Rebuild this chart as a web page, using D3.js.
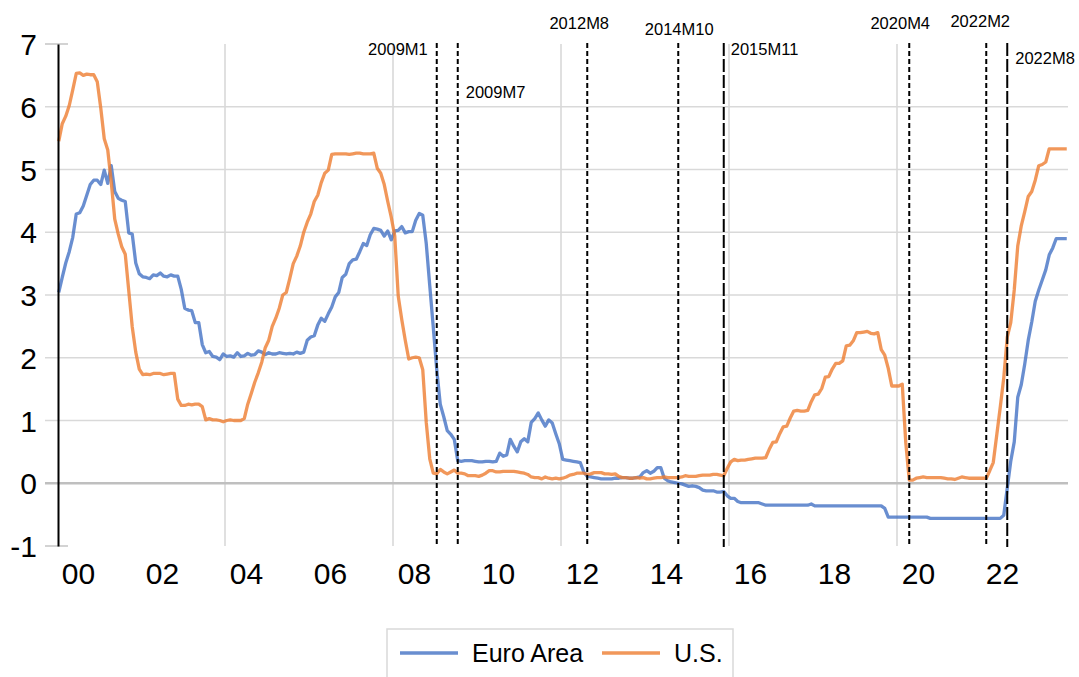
<!DOCTYPE html>
<html>
<head>
<meta charset="utf-8">
<script src="https://cdn.jsdelivr.net/npm/d3@7"></script>
<style>
  html, body { margin: 0; padding: 0; background: #fff; }
  svg { display: block; font-family: "Liberation Sans", Arial, sans-serif; }
</style>
</head>
<body>
<svg id="chart" width="1079" height="677"></svg>
<script>
// ---------------- DATA (monthly, Jan 2000 – Jan 2024) ----------------
const startYear = 2000;

const euroArea = [
  3.04, 3.28, 3.51, 3.69, 3.92, 4.29, 4.31, 4.42, 4.59, 4.76, 4.83, 4.83,
  4.76, 4.99, 4.78, 5.06, 4.65, 4.54, 4.51, 4.49, 3.99, 3.97, 3.51, 3.34,
  3.29, 3.28, 3.26, 3.32, 3.31, 3.35, 3.30, 3.29, 3.32, 3.30, 3.30, 3.09,
  2.79, 2.76, 2.75, 2.56, 2.56, 2.21, 2.08, 2.10, 2.02, 2.01, 1.97, 2.06,
  2.02, 2.03, 2.01, 2.08, 2.02, 2.03, 2.07, 2.04, 2.05, 2.11, 2.09, 2.05,
  2.08, 2.06, 2.06, 2.08, 2.07, 2.06, 2.07, 2.06, 2.09, 2.07, 2.09, 2.28,
  2.33, 2.35, 2.52, 2.63, 2.58, 2.70, 2.81, 2.97, 3.04, 3.28, 3.33, 3.50,
  3.56, 3.57, 3.69, 3.82, 3.79, 3.96, 4.06, 4.05, 4.03, 3.94, 4.02, 3.88,
  4.02, 4.03, 4.09, 3.99, 4.01, 4.01, 4.19, 4.30, 4.27, 3.82, 3.15, 2.49,
  1.81, 1.26, 1.06, 0.84, 0.78, 0.70, 0.36, 0.35, 0.36, 0.36, 0.36, 0.35,
  0.34, 0.34, 0.35, 0.35, 0.34, 0.35, 0.48, 0.43, 0.45, 0.70, 0.59, 0.50,
  0.66, 0.71, 0.66, 0.97, 1.03, 1.12, 1.01, 0.91, 1.01, 0.96, 0.79, 0.63,
  0.38, 0.37, 0.36, 0.35, 0.34, 0.33, 0.18, 0.11, 0.10, 0.09, 0.08, 0.07,
  0.07, 0.07, 0.07, 0.08, 0.08, 0.09, 0.09, 0.08, 0.08, 0.09, 0.10, 0.17,
  0.20, 0.16, 0.19, 0.25, 0.25, 0.08, 0.04, 0.02, 0.01, 0.00, -0.01, -0.03,
  -0.05, -0.04, -0.05, -0.07, -0.11, -0.12, -0.12, -0.12, -0.14, -0.14, -0.13, -0.20,
  -0.24, -0.24, -0.29, -0.31, -0.31, -0.31, -0.31, -0.31, -0.31, -0.33, -0.35, -0.35,
  -0.35, -0.35, -0.35, -0.35, -0.35, -0.35, -0.35, -0.35, -0.35, -0.35, -0.35, -0.33,
  -0.36, -0.36, -0.36, -0.36, -0.36, -0.36, -0.36, -0.36, -0.36, -0.36, -0.36, -0.36,
  -0.36, -0.36, -0.36, -0.36, -0.36, -0.36, -0.36, -0.36, -0.40, -0.54, -0.54, -0.54,
  -0.54, -0.54, -0.54, -0.54, -0.54, -0.54, -0.54, -0.54, -0.54, -0.56, -0.56, -0.56,
  -0.56, -0.56, -0.56, -0.56, -0.56, -0.56, -0.56, -0.56, -0.56, -0.56, -0.56, -0.56,
  -0.56, -0.56, -0.56, -0.56, -0.56, -0.56, -0.51, -0.08, 0.35, 0.66, 1.37, 1.57,
  1.90, 2.28, 2.57, 2.90, 3.08, 3.24, 3.40, 3.64, 3.75, 3.90, 3.90, 3.90,
  3.90
];

const us = [
  5.45, 5.73, 5.85, 6.02, 6.27, 6.53, 6.54, 6.50, 6.52, 6.51, 6.51, 6.40,
  5.98, 5.49, 5.31, 4.80, 4.21, 3.97, 3.77, 3.65, 3.07, 2.49, 2.09, 1.82,
  1.73, 1.74, 1.73, 1.75, 1.75, 1.75, 1.73, 1.74, 1.75, 1.75, 1.34, 1.24,
  1.24, 1.26, 1.25, 1.26, 1.26, 1.22, 1.01, 1.03, 1.01, 1.01, 1.00, 0.98,
  1.00, 1.01, 1.00, 1.00, 1.00, 1.03, 1.26, 1.43, 1.61, 1.76, 1.93, 2.16,
  2.28, 2.50, 2.63, 2.79, 3.00, 3.04, 3.26, 3.50, 3.62, 3.78, 4.00, 4.16,
  4.29, 4.49, 4.59, 4.79, 4.94, 4.99, 5.24, 5.25, 5.25, 5.25, 5.25, 5.24,
  5.25, 5.26, 5.26, 5.25, 5.25, 5.25, 5.26, 5.02, 4.94, 4.76, 4.49, 4.24,
  3.94, 2.98, 2.61, 2.28, 1.98, 2.00, 2.01, 2.00, 1.81, 0.97, 0.39, 0.16,
  0.15, 0.22, 0.18, 0.15, 0.18, 0.21, 0.16, 0.16, 0.15, 0.12, 0.12, 0.12,
  0.11, 0.13, 0.16, 0.20, 0.20, 0.18, 0.18, 0.19, 0.19, 0.19, 0.19, 0.18,
  0.17, 0.16, 0.14, 0.10, 0.09, 0.09, 0.07, 0.10, 0.08, 0.07, 0.08, 0.07,
  0.08, 0.10, 0.13, 0.14, 0.16, 0.16, 0.16, 0.14, 0.15, 0.17, 0.17, 0.17,
  0.15, 0.15, 0.14, 0.15, 0.11, 0.09, 0.09, 0.08, 0.08, 0.09, 0.08, 0.09,
  0.07, 0.07, 0.08, 0.09, 0.09, 0.10, 0.09, 0.09, 0.09, 0.09, 0.10, 0.12,
  0.11, 0.11, 0.11, 0.12, 0.13, 0.13, 0.13, 0.14, 0.14, 0.13, 0.12, 0.24,
  0.34, 0.38, 0.36, 0.37, 0.37, 0.38, 0.39, 0.40, 0.40, 0.40, 0.41, 0.54,
  0.65, 0.66, 0.79, 0.90, 0.91, 1.04, 1.15, 1.16, 1.15, 1.15, 1.16, 1.30,
  1.41, 1.42, 1.51, 1.69, 1.70, 1.82, 1.91, 1.91, 1.95, 2.19, 2.20, 2.27,
  2.40, 2.40, 2.41, 2.42, 2.39, 2.38, 2.40, 2.13, 2.04, 1.83, 1.55, 1.55,
  1.55, 1.58, 0.65, 0.05, 0.05, 0.08, 0.09, 0.10, 0.09, 0.09, 0.09, 0.09,
  0.09, 0.08, 0.07, 0.07, 0.06, 0.08, 0.10, 0.09, 0.08, 0.08, 0.08, 0.08,
  0.08, 0.08, 0.20, 0.33, 0.77, 1.21, 1.68, 2.33, 2.56, 3.08, 3.78, 4.10,
  4.33, 4.57, 4.65, 4.83, 5.06, 5.08, 5.12, 5.33, 5.33, 5.33, 5.33, 5.33,
  5.33
];

const seriesNames = ["Euro Area", "U.S."];
const yTicks = [-1, 0, 1, 2, 3, 4, 5, 6, 7];
const yTickLabels = ["-1", "0", "1", "2", "3", "4", "5", "6", "7"];
const xTickYears = [2000, 2002, 2004, 2006, 2008, 2010, 2012, 2014, 2016, 2018, 2020, 2022];
const xTickLabels = ["00", "02", "04", "06", "08", "10", "12", "14", "16", "18", "20", "22"];
const gridYears = [2004, 2008, 2012, 2016, 2020];
const eventLabels = ["2009M1", "2009M7", "2012M8", "2014M10", "2015M11", "2020M4", "2022M2", "2022M8"];

// ---------------- LAYOUT / STYLE ----------------
const colors = { euro: "#4472C4", us: "#ED7D31" };
const eventStyle = {
  "2009M1":  { anchor: "end",    dx: -9, y: 55, dash: "5,3" },
  "2009M7":  { anchor: "start",  dx: 8,  y: 98, dash: "5,3" },
  "2012M8":  { anchor: "middle", dx: -8, y: 29, dash: "5,3" },
  "2014M10": { anchor: "middle", dx: 1,  y: 35, dash: "5,3" },
  "2015M11": { anchor: "start",  dx: 7,  y: 55, dash: "13,3" },
  "2020M4":  { anchor: "middle", dx: -9, y: 29, dash: "5,3" },
  "2022M2":  { anchor: "middle", dx: -6, y: 27, dash: "5,3" },
  "2022M8":  { anchor: "start",  dx: 8,  y: 64, dash: "13,3" }
};

const monthIndex = s => {
  const [yr, mo] = s.split("M").map(Number);
  return (yr - startYear) * 12 + (mo - 1);
};

const svg = d3.select("#chart");

const x = d3.scaleLinear().domain([0, 288]).range([58.75, 1066.75]);
const y = d3.scaleLinear().domain([-1, 7]).range([546, 44]);
const xLeft = 45, xRight = 1068, tickEnd = 68;

// horizontal gridlines
const grid = svg.append("g");
grid.selectAll("line.h")
  .data(yTicks.filter(v => v !== 0))
  .join("line")
  .attr("x1", xLeft)
  .attr("x2", v => (v === 7 || v === -1) ? tickEnd : xRight)
  .attr("y1", d => y(d)).attr("y2", d => y(d))
  .attr("stroke", v => (v === 7 || v === -1) ? "#c8c8c8" : "#d9d9d9")
  .attr("stroke-width", 1.6);

// vertical gridlines
grid.selectAll("line.v")
  .data(gridYears)
  .join("line")
  .attr("x1", d => x((d - startYear) * 12 - 0.5))
  .attr("x2", d => x((d - startYear) * 12 - 0.5))
  .attr("y1", y(7)).attr("y2", y(-1))
  .attr("stroke", "#d9d9d9")
  .attr("stroke-width", 1.6);

// zero line
svg.append("line")
  .attr("x1", xLeft).attr("x2", xRight)
  .attr("y1", y(0)).attr("y2", y(0))
  .attr("stroke", "#bfbfbf").attr("stroke-width", 2.4);

// series lines
const line = d3.line().x((d, i) => x(i)).y(d => y(d)).curve(d3.curveLinear);
svg.append("path").datum(euroArea)
  .attr("d", line).attr("fill", "none")
  .attr("stroke", colors.euro).attr("stroke-opacity", 0.8)
  .attr("stroke-width", 3.3).attr("stroke-linejoin", "round");
svg.append("path").datum(us)
  .attr("d", line).attr("fill", "none")
  .attr("stroke", colors.us).attr("stroke-opacity", 0.8)
  .attr("stroke-width", 3.3).attr("stroke-linejoin", "round");

// event lines + labels
const ev = svg.append("g");
ev.selectAll("line")
  .data(eventLabels)
  .join("line")
  .attr("x1", d => x(monthIndex(d))).attr("x2", d => x(monthIndex(d)))
  .attr("y1", y(7) - 1).attr("y2", y(-1) + 1)
  .attr("stroke", "#000").attr("stroke-width", 2)
  .attr("stroke-dasharray", d => eventStyle[d].dash);
ev.selectAll("text")
  .data(eventLabels)
  .join("text")
  .attr("x", d => x(monthIndex(d)) + eventStyle[d].dx)
  .attr("y", d => eventStyle[d].y)
  .attr("text-anchor", d => eventStyle[d].anchor)
  .attr("font-size", 16.5)
  .attr("fill", "#000")
  .text(d => d);

// y axis
const yAxis = d3.axisLeft(y).tickValues(yTicks).tickSize(0).tickSizeOuter(0).tickPadding(21)
  .tickFormat((d, i) => yTickLabels[i]);
const gy = svg.append("g").attr("transform", "translate(58,0)").call(yAxis);
gy.select(".domain").attr("stroke", "#000").attr("stroke-width", 2);
gy.selectAll("text").attr("font-size", 30).attr("fill", "#000")
  .attr("font-family", "'Liberation Sans', Arial, sans-serif").attr("dy", "0.35em");

// x axis labels
const xAxis = d3.axisBottom(x)
  .tickValues(xTickYears.map(yr => (yr - startYear) * 12 + 5.5))
  .tickFormat((d, i) => xTickLabels[i])
  .tickSize(0).tickPadding(17);
const gx = svg.append("g").attr("transform", `translate(0,${y(-1)})`).call(xAxis);
gx.select(".domain").remove();
gx.selectAll("text").attr("font-size", 30).attr("fill", "#000")
  .attr("font-family", "'Liberation Sans', Arial, sans-serif");

// legend
const lg = svg.append("g");
lg.append("rect").attr("x", 387).attr("y", 629).attr("width", 346).attr("height", 60)
  .attr("fill", "#fff").attr("stroke", "#d9d9d9").attr("stroke-width", 1.5);
const legendItems = [
  { name: seriesNames[0], color: colors.euro, x0: 400 },
  { name: seriesNames[1], color: colors.us, x0: 602 }
];
legendItems.forEach(it => {
  lg.append("line").attr("x1", it.x0).attr("x2", it.x0 + 58).attr("y1", 653).attr("y2", 653)
    .attr("stroke", it.color).attr("stroke-opacity", 0.8).attr("stroke-width", 3.3);
  lg.append("text").attr("x", it.x0 + 72).attr("y", 662).attr("font-size", 25)
    .attr("fill", "#000").text(it.name);
});
</script>
</body>
</html>
